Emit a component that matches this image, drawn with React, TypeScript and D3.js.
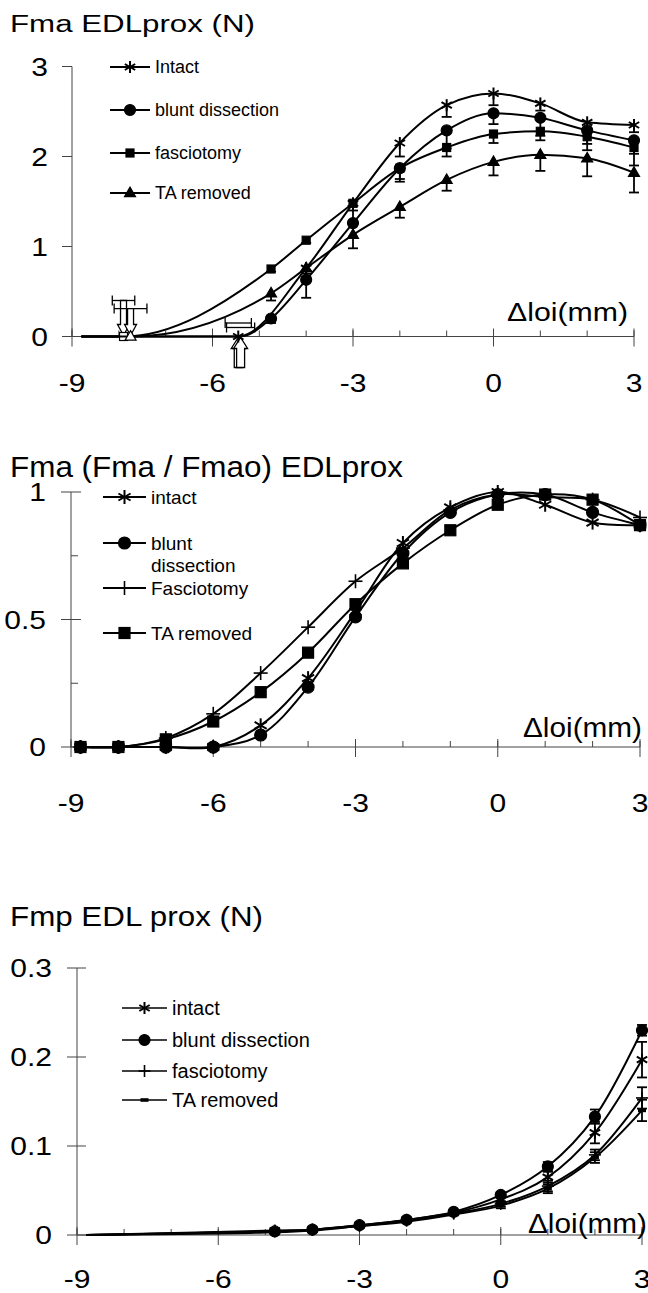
import React from 'react'
import * as d3 from 'd3'

const FONT = '"Liberation Sans", Arial, Helvetica, sans-serif'

// shared x axis (delta loi, mm)
const loiTicks = [-9, -6, -3, 0, 3]
const loiMinor = [-9, -8, -7, -6, -5, -4, -3, -2, -1, 0, 1, 2, 3]

// ---- panel A : Fma EDLprox (N)
const aLegend = ['Intact', 'blunt dissection', 'fasciotomy', 'TA removed']
const aYTicks = [0, 1, 2, 3]
const aIntactX = [-8.8, -5.45, -4, -3, -2, -1, 0, 1, 2, 3]
const aIntactY = [0, 0, 0.76, 1.48, 2.15, 2.57, 2.7, 2.59, 2.38, 2.35]
const aIntactSD = [0, 0, 0.06, 0.08, 0.15, 0.13, 0.13, 0.08, 0.1, 0.08]
const aBluntX = [-8.8, -5.4, -4.75, -4, -3, -2, -1, 0, 1, 2, 3]
const aBluntY = [0, 0, 0.2, 0.63, 1.26, 1.87, 2.29, 2.48, 2.43, 2.29, 2.18]
const aBluntSD = [0, 0, 0.05, 0.2, 0.15, 0.12, 0.2, 0.12, 0.2, 0.15, 0.15]
const aFascX = [-8.8, -7.9, -4.75, -4, -3, -2, -1, 0, 1, 2, 3]
const aFascY = [0, 0, 0.75, 1.07, 1.48, 1.87, 2.1, 2.25, 2.28, 2.22, 2.1]
const aFascSD = [0, 0, 0.03, 0.03, 0.2, 0.15, 0.1, 0.1, 0.1, 0.15, 0.2]
const aTaX = [-8.8, -7.75, -4.75, -4, -3, -2, -1, 0, 1, 2, 3]
const aTaY = [0, 0, 0.48, 0.76, 1.13, 1.44, 1.74, 1.94, 2.02, 1.98, 1.82]
const aTaSD = [0, 0, 0.08, 0.1, 0.15, 0.12, 0.12, 0.15, 0.18, 0.2, 0.22]
// onset lengths (Fma = 0) with their SD, shown by arrows
const aOnsetX = [-5.45, -5.4, -7.9, -7.75]
const aOnsetSD = [0.28, 0.3, 0.24, 0.35]
const aOnsetBarY = [0.15, 0.1, 0.4, 0.31]

// ---- panel B : Fma (Fma / Fmao) EDLprox
const bLegend = ['intact', 'blunt\ndissection', 'Fasciotomy', 'TA removed']
const bYTicks = [0, 0.5, 1]
const bYMinor = [0.25, 0.75]
const bX = [-8.8, -8, -7, -6, -5, -4, -3, -2, -1, 0, 1, 2, 3]
const bIntactY = [0, 0, 0, 0, 0.085, 0.27, 0.53, 0.8, 0.94, 1.0, 0.95, 0.88, 0.87]
const bBluntY = [0, 0, 0, 0, 0.047, 0.235, 0.51, 0.76, 0.92, 0.99, 0.99, 0.92, 0.87]
const bFascY = [0, 0, 0.035, 0.13, 0.29, 0.47, 0.65, 0.78, 0.93, 0.99, 0.98, 0.97, 0.9]
const bTaY = [0, 0, 0.03, 0.1, 0.215, 0.37, 0.56, 0.72, 0.85, 0.95, 0.99, 0.97, 0.87]

// ---- panel C : Fmp EDL prox (N)
const cLegend = ['intact', 'blunt dissection', 'fasciotomy', 'TA removed']
const cYTicks = [0, 0.1, 0.2, 0.3]
const cX = [-8.8, -4.8, -4, -3, -2, -1, 0, 1, 2, 3]
const cIntactY = [0, 0.005, 0.006, 0.011, 0.017, 0.025, 0.04, 0.065, 0.115, 0.197]
const cIntactSD = [0, 0, 0, 0, 0, 0, 0.003, 0.006, 0.012, 0.02]
const cBluntY = [0, 0.004, 0.006, 0.011, 0.017, 0.026, 0.045, 0.077, 0.133, 0.23]
const cBluntSD = [0, 0, 0, 0, 0, 0, 0.003, 0.005, 0.008, 0.006]
const cFascY = [0, 0.004, 0.006, 0.01, 0.016, 0.024, 0.035, 0.055, 0.09, 0.154]
const cFascSD = [0, 0, 0, 0, 0, 0, 0.003, 0.006, 0.006, 0.012]
const cTaY = [0, 0.003, 0.005, 0.01, 0.015, 0.023, 0.033, 0.052, 0.087, 0.14]
const cTaSD = [0, 0, 0, 0, 0, 0, 0.003, 0.005, 0.006, 0.012]

function Marker({ type, x, y, s, open }: any) {
  const fill = open ? 'white' : 'black'
  if (type === 'star') {
    const dx = s * Math.cos(Math.PI / 6)
    const dy = s * Math.sin(Math.PI / 6)
    return (
      <g stroke="black" strokeWidth={2}>
        <line x1={x} y1={y - s} x2={x} y2={y + s} />
        <line x1={x - dx} y1={y - dy} x2={x + dx} y2={y + dy} />
        <line x1={x - dx} y1={y + dy} x2={x + dx} y2={y - dy} />
      </g>
    )
  }
  if (type === 'plus') {
    return (
      <g stroke="black" strokeWidth={1.6}>
        <line x1={x} y1={y - s} x2={x} y2={y + s} />
        <line x1={x - s} y1={y} x2={x + s} y2={y} />
      </g>
    )
  }
  if (type === 'circle') return <circle cx={x} cy={y} r={s} fill={fill} stroke="black" strokeWidth={1.2} />
  if (type === 'square')
    return <rect x={x - s} y={y - s} width={2 * s} height={2 * s} fill={fill} stroke="black" strokeWidth={1.2} />
  if (type === 'dash') return <rect x={x - s} y={y - 1.8} width={2 * s} height={3.6} fill="black" />
  // triangle
  const h = s * 1.9
  return (
    <path
      d={`M${x},${y - h * 0.62}L${x + s * 1.1},${y + h * 0.38}L${x - s * 1.1},${y + h * 0.38}Z`}
      fill={fill}
      stroke="black"
      strokeWidth={1.2}
    />
  )
}

function Panel({ cfg }: any) {
  const x = d3.scaleLinear().domain([-9, 3]).range(cfg.xRange)
  const y = d3.scaleLinear().domain([0, cfg.yMax]).range(cfg.yRange)
  const line = d3
    .line<[number, number]>()
    .x((d) => x(d[0]))
    .y((d) => y(d[1]))
    .curve(cfg.curve)
  const x0 = x(-9)
  const y0 = y(0)
  const txt = { fontFamily: FONT, fill: 'black' }

  return (
    <g>
      <text x={cfg.title.x} y={cfg.title.y} fontSize={cfg.title.size} textLength={cfg.title.len} lengthAdjust="spacingAndGlyphs" style={txt}>
        {cfg.title.text}
      </text>

      {/* y axis */}
      <line x1={x0} x2={x0} y1={y(cfg.yMax)} y2={y0} stroke="#444" strokeWidth={1} />
      {cfg.yTicks.map((t: number) => (
        <g key={'yt' + t}>
          <line x1={x0 - 10} x2={x0 + cfg.yTickRight} y1={y(t)} y2={y(t)} stroke="#444" strokeWidth={1} />
          <text
            transform={`translate(${cfg.yLabelX},${y(t) + 9}) scale(${cfg.labelSx},1)`}
            textAnchor="end"
            fontSize={25}
            style={txt}
          >
            {String(t)}
          </text>
        </g>
      ))}
      {(cfg.yMinor || []).map((t: number) => (
        <line key={'ym' + t} x1={x0} x2={x0 + 7} y1={y(t)} y2={y(t)} stroke="#444" strokeWidth={1} />
      ))}

      {/* x axis */}
      <line x1={x0} x2={x(3)} y1={y0} y2={y0} stroke="#444" strokeWidth={1} />
      {loiMinor.map((t) => (
        <line key={'xm' + t} x1={x(t)} x2={x(t)} y1={y0 - 6} y2={y0} stroke="#444" strokeWidth={1} />
      ))}
      {loiTicks.map((t) => (
        <g key={'xt' + t}>
          <line x1={x(t)} x2={x(t)} y1={y0 - 8} y2={y0 + 10} stroke="#444" strokeWidth={1} />
          <text
            transform={`translate(${x(t)},${cfg.xLabelY}) scale(${cfg.labelSx},1)`}
            textAnchor="middle"
            fontSize={25}
            style={txt}
          >
            {String(t)}
          </text>
        </g>
      ))}
      <text x={cfg.unit.x} y={cfg.unit.y} fontSize={cfg.unit.size} textLength={cfg.unit.len} lengthAdjust="spacingAndGlyphs" style={txt}>
        Δloi(mm)
      </text>

      {/* onset annotations */}
      {cfg.onset && cfg.onset.map((o: any, i: number) => {
        const cx = x(o.x)
        const by = y(o.barY)
        const hw = x(o.x + o.sd) - cx
        return (
          <g key={'on' + i} stroke="black" strokeWidth={1.3} fill="white">
            <line x1={cx - hw} x2={cx + hw} y1={by} y2={by} />
            <line x1={cx - hw} x2={cx - hw} y1={by - 5} y2={by + 5} />
            <line x1={cx + hw} x2={cx + hw} y1={by - 5} y2={by + 5} />
            {o.down ? (
              <path d={`M${cx - 3},${by}L${cx + 3},${by}L${cx + 3},${y0 - 12}L${cx + 6},${y0 - 12}L${cx},${y0 - 1}L${cx - 6},${y0 - 12}L${cx - 3},${y0 - 12}Z`} />
            ) : (
              <path d={`M${cx - 4},${y0 + 31}L${cx + 4},${y0 + 31}L${cx + 4},${y0 + 12}L${cx + 7},${y0 + 12}L${cx},${y0 + 1}L${cx - 7},${y0 + 12}L${cx - 4},${y0 + 12}Z`} />
            )}
          </g>
        )
      })}

      {/* series */}
      {cfg.series.map((s: any, si: number) => {
        const pts: [number, number][] = s.xs.map((v: number, i: number) => [v, s.ys[i]])
        return (
          <g key={'s' + si}>
            <path d={line(pts) || ''} fill="none" stroke="black" strokeWidth={cfg.lineW} />
            {s.sd &&
              pts.map((p, i) =>
                s.sd[i] > 0 && i >= s.from ? (
                  <g key={'e' + i} stroke="black" strokeWidth={1.8}>
                    <line x1={x(p[0])} x2={x(p[0])} y1={cfg.bothErr ? y(p[1] + s.sd[i]) : y(p[1])} y2={y(p[1] - s.sd[i])} />
                    <line x1={x(p[0]) - 5} x2={x(p[0]) + 5} y1={y(p[1] - s.sd[i])} y2={y(p[1] - s.sd[i])} />
                    {cfg.bothErr && <line x1={x(p[0]) - 5} x2={x(p[0]) + 5} y1={y(p[1] + s.sd[i])} y2={y(p[1] + s.sd[i])} />}
                  </g>
                ) : null
              )}
            {pts.map((p, i) =>
              i >= s.from ? <Marker key={'m' + i} type={s.mark} x={x(p[0])} y={y(p[1])} s={s.size} /> : null
            )}
            {s.openAt !== undefined && (
              <Marker type={s.mark} x={x(pts[s.openAt][0])} y={y(pts[s.openAt][1])} s={s.size} open />
            )}
          </g>
        )
      })}

      {/* legend */}
      {cfg.series.map((s: any, i: number) => {
        const ly = cfg.legend.ys[i]
        const lines = s.name.split('\n')
        return (
          <g key={'l' + i}>
            <line x1={cfg.legend.x1} x2={cfg.legend.x2} y1={ly} y2={ly} stroke="black" strokeWidth={cfg.legend.w} />
            <Marker type={s.mark} x={(cfg.legend.x1 + cfg.legend.x2) / 2} y={ly} s={s.size} />
            {lines.map((t: string, k: number) => (
              <text key={k} x={cfg.legend.x2 + 5} y={ly + cfg.legend.size * 0.36 + k * 22} fontSize={cfg.legend.size} style={txt}>
                {t}
              </text>
            ))}
          </g>
        )
      })}
    </g>
  )
}

export default function App() {
  const panelA = {
    title: { text: 'Fma EDLprox (N)', x: 10, y: 32, size: 23, len: 245 },
    unit: { x: 507, y: 321, size: 26, len: 121 },
    xRange: [72, 634],
    yRange: [336.5, 66.5],
    yMax: 3,
    yTicks: aYTicks,
    yTickRight: 0,
    yLabelX: 48,
    xLabelY: 392,
    labelSx: 1.2,
    lineW: 2,
    bothErr: false,
    curve: d3.curveMonotoneX,
    legend: { x1: 110, x2: 150, ys: [67, 110, 153, 193], size: 18, w: 2 },
    onset: [
      { x: aOnsetX[0], sd: aOnsetSD[0], barY: aOnsetBarY[0], down: false },
      { x: aOnsetX[1], sd: aOnsetSD[1], barY: aOnsetBarY[1], down: false },
      { x: aOnsetX[2], sd: aOnsetSD[2], barY: aOnsetBarY[2], down: true },
      { x: aOnsetX[3], sd: aOnsetSD[3], barY: aOnsetBarY[3], down: true },
    ],
    series: [
      { name: aLegend[0], mark: 'star', xs: aIntactX, ys: aIntactY, sd: aIntactSD, from: 2, openAt: 1, size: 6 },
      { name: aLegend[1], mark: 'circle', xs: aBluntX, ys: aBluntY, sd: aBluntSD, from: 2, size: 5.5 },
      { name: aLegend[2], mark: 'square', xs: aFascX, ys: aFascY, sd: aFascSD, from: 2, openAt: 1, size: 4 },
      { name: aLegend[3], mark: 'triangle', xs: aTaX, ys: aTaY, sd: aTaSD, from: 2, openAt: 1, size: 5 },
    ],
  }
  const panelB = {
    title: { text: 'Fma (Fma / Fmao) EDLprox', x: 10, y: 477, size: 30, len: 393 },
    unit: { x: 523, y: 737, size: 27, len: 119 },
    xRange: [71, 640],
    yRange: [747, 492],
    yMax: 1,
    yTicks: bYTicks,
    yMinor: bYMinor,
    yTickRight: 10,
    yLabelX: 46,
    xLabelY: 812,
    labelSx: 1.2,
    lineW: 2,
    curve: d3.curveCatmullRom.alpha(0.5),
    legend: { x1: 103, x2: 146, ys: [497, 543, 588, 633], size: 19, w: 2 },
    series: [
      { name: bLegend[0], mark: 'star', xs: bX, ys: bIntactY, from: 0, size: 7 },
      { name: bLegend[1], mark: 'circle', xs: bX, ys: bBluntY, from: 0, size: 6 },
      { name: bLegend[2], mark: 'plus', xs: bX, ys: bFascY, from: 0, size: 7 },
      { name: bLegend[3], mark: 'square', xs: bX, ys: bTaY, from: 0, size: 5.5 },
    ],
  }
  const panelC = {
    title: { text: 'Fmp EDL prox (N)', x: 10, y: 926, size: 28, len: 253 },
    unit: { x: 528, y: 1233, size: 27, len: 119 },
    xRange: [77, 642],
    yRange: [1235, 968],
    yMax: 0.3,
    yTicks: cYTicks,
    yTickRight: 9,
    yLabelX: 52,
    xLabelY: 1288,
    labelSx: 1.2,
    lineW: 2,
    bothErr: true,
    curve: d3.curveCatmullRom.alpha(0.5),
    legend: { x1: 122, x2: 167, ys: [1008, 1040, 1071, 1100], size: 20, w: 1.5 },
    series: [
      { name: cLegend[0], mark: 'star', xs: cX, ys: cIntactY, sd: cIntactSD, from: 1, size: 6 },
      { name: cLegend[1], mark: 'circle', xs: cX, ys: cBluntY, sd: cBluntSD, from: 1, size: 5.5 },
      { name: cLegend[2], mark: 'plus', xs: cX, ys: cFascY, sd: cFascSD, from: 1, size: 6 },
      { name: cLegend[3], mark: 'dash', xs: cX, ys: cTaY, sd: cTaSD, from: 1, size: 4 },
    ],
  }

  return (
    <svg
      width={648}
      height={1293}
      style={{ position: 'absolute', left: 0, top: 0, background: 'white' }}
    >
      <rect width={648} height={1293} fill="white" />
      <Panel cfg={panelA} />
      <Panel cfg={panelB} />
      <Panel cfg={panelC} />
    </svg>
  )
}
